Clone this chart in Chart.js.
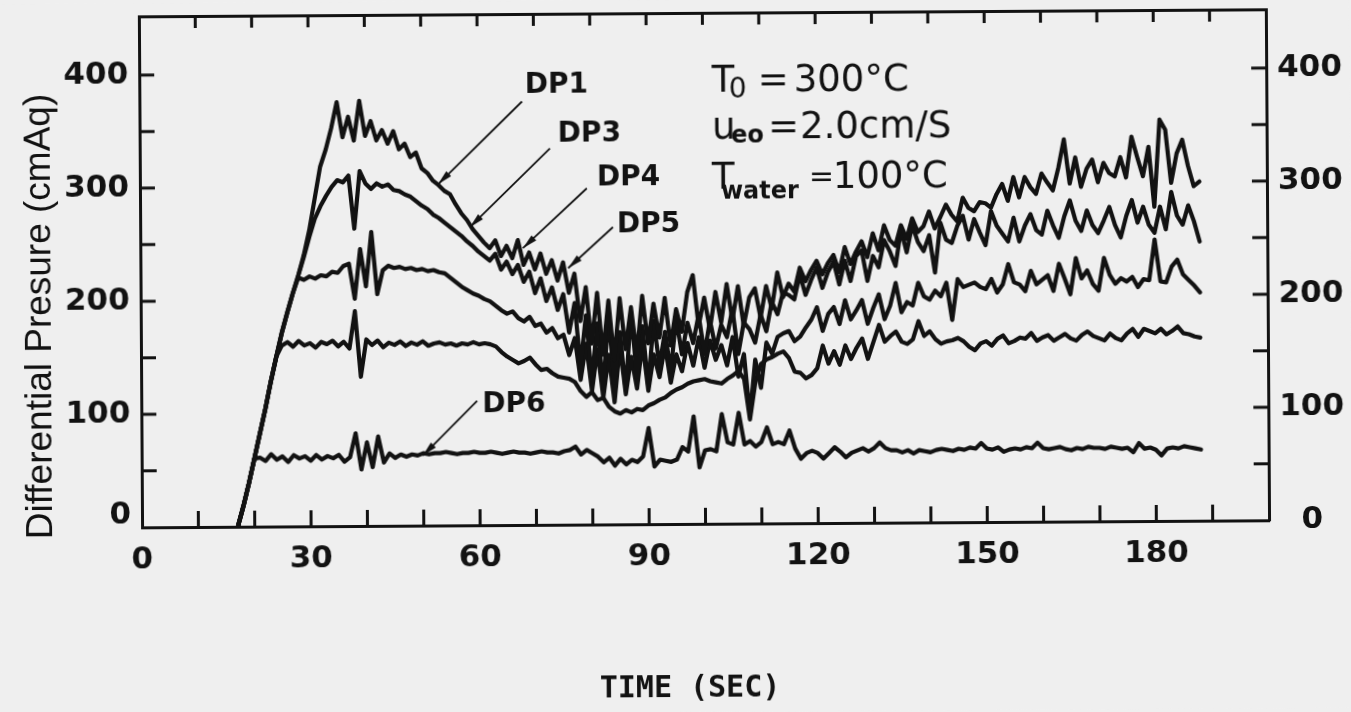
<!DOCTYPE html>
<html>
<head>
<meta charset="utf-8">
<title>Differential pressure</title>
<script src="https://cdn.jsdelivr.net/npm/chart.js@4.4.1/dist/chart.umd.min.js"></script>
<style>
  html, body { margin: 0; padding: 0; background: #efefef; overflow: hidden; }
  #chart { display: block; transform: rotate(-0.36deg); }
</style>
</head>
<body>
<canvas id="chart" width="1351" height="712"></canvas>
<script>
// sample times, one reading per second
var seconds = [17, 18, 19,
  20, 21, 22, 23, 24, 25, 26, 27, 28, 29,
  30, 31, 32, 33, 34, 35, 36, 37, 38, 39,
  40, 41, 42, 43, 44, 45, 46, 47, 48, 49,
  50, 51, 52, 53, 54, 55, 56, 57, 58, 59,
  60, 61, 62, 63, 64, 65, 66, 67, 68, 69,
  70, 71, 72, 73, 74, 75, 76, 77, 78, 79,
  80, 81, 82, 83, 84, 85, 86, 87, 88, 89,
  90, 91, 92, 93, 94, 95, 96, 97, 98, 99,
  100, 101, 102, 103, 104, 105, 106, 107, 108, 109,
  110, 111, 112, 113, 114, 115, 116, 117, 118, 119,
  120, 121, 122, 123, 124, 125, 126, 127, 128, 129,
  130, 131, 132, 133, 134, 135, 136, 137, 138, 139,
  140, 141, 142, 143, 144, 145, 146, 147, 148, 149,
  150, 151, 152, 153, 154, 155, 156, 157, 158, 159,
  160, 161, 162, 163, 164, 165, 166, 167, 168, 169,
  170, 171, 172, 173, 174, 175, 176, 177, 178, 179,
  180, 181, 182, 183, 184, 185, 186, 187, 188];

// differential pressure, cmAq
var dp1 = [0, 18, 38,
  60, 82, 104, 128, 150, 171, 189, 206, 222, 240,
  262, 290, 318, 333, 352, 375, 344, 362, 341, 376,
  345, 358, 341, 350, 338, 349, 333, 338, 326, 330,
  316, 312, 305, 301, 296, 293, 284, 276, 270, 262,
  256, 250, 245, 252, 238, 247, 236, 252, 230, 241,
  226, 240, 222, 234, 216, 232, 205, 222, 180, 210,
  160, 205, 150, 198, 145, 200, 155, 192, 150, 202,
  160, 195, 165, 200, 158, 190, 170, 205, 220, 175,
  200, 172, 205, 178, 212, 180, 210, 175, 200, 208,
  182, 210, 190, 222, 200, 212, 205, 226, 214, 224,
  232, 220, 230, 237, 222, 244, 229, 240, 249, 235,
  256, 241, 263, 250, 245, 263, 251, 269, 257, 262,
  275, 260, 270, 281, 272, 266, 287, 278, 275, 283,
  282, 278, 290, 299, 284, 305, 287, 305, 296, 290,
  308, 300, 293, 313, 338, 299, 322, 296, 312, 320,
  300, 317, 308, 305, 322, 304, 340, 322, 305, 331,
  278, 355, 346, 299, 325, 337, 314, 296, 300];

var dp3 = [0, 18, 38,
  60, 82, 104, 128, 150, 171, 189, 206, 222, 238,
  256, 272, 283, 292, 300, 306, 304, 310, 263, 314,
  303, 298, 303, 300, 302, 297, 296, 293, 291, 287,
  283, 280, 275, 272, 268, 264, 260, 256, 251, 247,
  242, 238, 234, 240, 226, 233, 222, 230, 215, 224,
  205, 218, 198, 210, 190, 204, 170, 196, 140, 185,
  128, 178, 120, 185, 125, 170, 118, 188, 130, 175,
  122, 180, 140, 170, 135, 182, 150, 178, 160, 185,
  150, 180, 155, 176, 165, 190, 150, 178, 172, 160,
  185, 170, 196, 185, 204, 202, 198, 220, 202, 215,
  226, 208, 222, 231, 211, 232, 214, 236, 241, 214,
  236, 226, 250, 240, 227, 259, 239, 263, 248, 240,
  254, 221, 265, 250, 247, 262, 271, 250, 268, 256,
  245, 275, 262, 255, 248, 269, 248, 262, 272, 258,
  254, 275, 262, 251, 270, 284, 266, 257, 275, 262,
  255, 266, 278, 262, 251, 270, 284, 264, 278, 262,
  255, 278, 258, 291, 270, 262, 279, 265, 247];

var dp4 = [0, 18, 38,
  60, 82, 104, 128, 150, 171, 189, 206, 220, 218,
  221, 219, 222, 221, 225, 224, 230, 232, 201, 245,
  212, 260, 205, 226, 230, 228, 229, 227, 228, 226,
  227, 225, 226, 224, 223, 219, 215, 211, 208, 205,
  203, 200, 198, 194, 190, 187, 189, 183, 180, 184,
  176, 178, 170, 174, 165, 168, 150, 165, 128, 160,
  118, 155, 112, 150, 108, 158, 115, 148, 120, 160,
  118, 150, 130, 158, 125, 150, 135, 160, 140, 165,
  138, 162, 145, 158, 140, 165, 130, 150, 95, 145,
  120, 160, 150, 165, 168, 170, 161, 165, 173, 180,
  191, 170, 185, 191, 176, 197, 180, 188, 197, 176,
  190, 202, 180, 192, 212, 186, 195, 192, 212, 200,
  197, 205, 200, 212, 179, 215, 208, 210, 212, 208,
  206, 215, 203, 210, 228, 212, 210, 204, 222, 210,
  214, 218, 204, 228, 215, 201, 233, 215, 222, 210,
  204, 233, 218, 210, 215, 212, 216, 207, 214, 213,
  249, 212, 211, 225, 231, 218, 213, 208, 202];

var dp5 = [0, 18, 38,
  60, 82, 104, 128, 150, 160, 163, 159, 164, 160,
  162, 158, 163, 161, 164, 159, 163, 157, 190, 132,
  165, 160, 164, 158, 162, 160, 163, 159, 162, 160,
  163, 159, 161, 162, 160, 161, 159, 161, 160, 162,
  160, 161, 160, 158, 153, 149, 146, 143, 145, 148,
  142, 137, 138, 134, 131, 130, 129, 126, 118, 113,
  117, 110, 112, 104, 100, 98, 101, 99, 102, 101,
  105, 107, 110, 112, 116, 119, 121, 124, 126, 127,
  128, 126, 125, 124, 128, 131, 135, 128, 92, 125,
  141, 145, 147, 150, 152, 146, 134, 133, 128, 131,
  137, 157, 141, 152, 140, 157, 145, 155, 163, 145,
  160, 175, 160, 165, 169, 160, 158, 162, 178, 165,
  169, 162, 158, 160, 161, 163, 160, 155, 152, 158,
  160, 156, 162, 165, 158, 160, 163, 162, 167, 160,
  163, 165, 160, 163, 166, 162, 160, 165, 168, 164,
  162, 160, 166, 162, 160, 166, 170, 163, 170, 168,
  166, 170, 165, 168, 172, 166, 165, 163, 162];

var dp6 = [0, 18, 38,
  60, 61, 58, 64, 59, 62, 57, 63, 60, 62,
  58, 63, 59, 62, 60, 63, 57, 61, 82, 50,
  74, 52, 79, 56, 64, 60, 63, 61, 63, 62,
  64, 63, 64, 64, 65, 64, 63, 64, 64, 65,
  64, 64, 65, 64, 63, 64, 65, 64, 64, 63,
  64, 65, 64, 64, 63, 65, 66, 69, 62, 66,
  63, 60, 55, 59, 52, 58, 53, 57, 55, 60,
  85, 51, 57, 56, 55, 57, 68, 64, 95, 50,
  65, 66, 64, 97, 72, 70, 98, 70, 73, 68,
  72, 85, 70, 72, 70, 82, 66, 57, 62, 64,
  62, 57, 62, 67, 63, 58, 62, 64, 66, 63,
  66, 71, 66, 64, 64, 62, 64, 61, 64, 63,
  62, 64, 65, 64, 63, 65, 64, 66, 65, 70,
  65, 64, 66, 62, 64, 65, 64, 66, 65, 70,
  65, 64, 65, 66, 64, 63, 65, 64, 66, 65,
  65, 64, 66, 65, 64, 65, 61, 69, 64, 65,
  63, 58, 64, 65, 64, 66, 65, 64, 63];

var timeLabels = [0, 30, 60, 90, 120, 150, 180];
var pressureTicks = [0, 50, 100, 150, 200, 250, 300, 350, 400, 450];
var pressureLabels = [0, 100, 200, 300, 400];

// curve names with label / leader anchors in (sec, cmAq)
var dpNames = ['DP1', 'DP3', 'DP4', 'DP5', 'DP6'];
var nameAt = [[68.4, 388.6], [74.2, 345.2], [81.1, 306.2], [84.6, 264.6], [60.5, 106.5]];
var leaderFrom = [[67.9, 374.6], [72.8, 332.9], [79.3, 297.4], [83.9, 262.9], [59.6, 110]];
var leaderTo = [[52.9, 301.8], [58.5, 263.7], [67.9, 244.9], [75.9, 226.9], [49.9, 61.9]];
// baselines of the three test-condition lines
var condAt = [[101.6, 382.3], [101.6, 340.8], [101.5, 296.7]];

var ink = '#121212';
var paper = '#efefef';
var tickFont = { family: 'DejaVu Sans', size: 31, weight: 'bold' };

function series(values) {
  return {
    data: seconds.map(function (s, i) { return { x: s, y: values[i] }; }),
    borderColor: ink,
    borderWidth: 4.2,
    borderJoinStyle: 'round',
    borderCapStyle: 'round',
    pointRadius: 0,
    tension: 0,
    fill: false
  };
}

// fixed box sizes so the plot frame lands where it should
function fixBox(w, h) {
  return function (s) {
    if (w !== null) s.width = w;
    if (h !== null) s.height = h;
    s.paddingTop = 0;
    s.paddingBottom = 0;
    s.paddingLeft = 0;
    s.paddingRight = 0;
  };
}

function pressureTickList(s) {
  s.ticks = pressureTicks.map(function (v) { return { value: v }; });
}

var paperFill = {
  id: 'paperFill',
  beforeDraw: function (chart) {
    var c = chart.ctx;
    c.save();
    c.fillStyle = paper;
    c.fillRect(0, 0, chart.width, chart.height);
    c.restore();
  }
};

var notes = {
  id: 'notes',
  afterDraw: function (chart) {
    var ctx = chart.ctx, sx = chart.scales.x, sy = chart.scales.y, area = chart.chartArea;
    function px(p) { return [sx.getPixelForValue(p[0]), sy.getPixelForValue(p[1])]; }

    ctx.save();
    ctx.fillStyle = ink;
    ctx.strokeStyle = ink;

    // tick marks point into the plot on all four sides
    ctx.lineWidth = 3;
    ctx.beginPath();
    sx.ticks.forEach(function (t) {
      if (t.value <= sx.min || t.value >= sx.max) return;
      var p = sx.getPixelForValue(t.value);
      ctx.moveTo(p, area.bottom); ctx.lineTo(p, area.bottom - 16);
      ctx.moveTo(p, area.top); ctx.lineTo(p, area.top + 12);
    });
    sy.ticks.forEach(function (t) {
      if (t.value <= sy.min || t.value > 400) return;
      var p = sy.getPixelForValue(t.value);
      ctx.moveTo(area.left, p); ctx.lineTo(area.left + 15, p);
      ctx.moveTo(area.right, p); ctx.lineTo(area.right - 15, p);
    });
    ctx.stroke();

    // leader lines with small arrow heads
    ctx.lineWidth = 1.8;
    for (var i = 0; i < dpNames.length; i++) {
      var a = px(leaderFrom[i]), b = px(leaderTo[i]);
      ctx.beginPath();
      ctx.moveTo(a[0], a[1]);
      ctx.lineTo(b[0], b[1]);
      ctx.stroke();
      var dx = b[0] - a[0], dy = b[1] - a[1], len = Math.hypot(dx, dy);
      var ux = dx / len, uy = dy / len;
      ctx.beginPath();
      ctx.moveTo(b[0], b[1]);
      ctx.lineTo(b[0] - 15 * ux - 3.5 * uy, b[1] - 15 * uy + 3.5 * ux);
      ctx.lineTo(b[0] - 15 * ux + 3.5 * uy, b[1] - 15 * uy - 3.5 * ux);
      ctx.closePath();
      ctx.fill();
    }

    ctx.font = 'bold 28px "DejaVu Sans"';
    ctx.textAlign = 'left';
    ctx.textBaseline = 'middle';
    dpNames.forEach(function (name, k) {
      var p = px(nameAt[k]);
      ctx.fillText(name, p[0], p[1]);
    });

    // test conditions
    var big = '37px "DejaVu Sans"';
    var sub = '28px "DejaVu Sans"';
    var subBold = 'bold 24px "DejaVu Sans"';
    ctx.textBaseline = 'alphabetic';
    var p = px(condAt[0]);
    ctx.font = big; ctx.fillText('T', p[0], p[1]);
    ctx.font = sub; ctx.fillText('0', p[0] + 17, p[1] + 6);
    ctx.font = big; ctx.fillText('=', p[0] + 46, p[1]);
    ctx.fillText('300°C', p[0] + 82, p[1]);
    p = px(condAt[1]);
    ctx.font = big; ctx.fillText('u', p[0], p[1]);
    ctx.font = subBold; ctx.fillText('eo', p[0] + 19, p[1] + 4);
    ctx.font = big; ctx.fillText('=', p[0] + 56, p[1]);
    ctx.fillText('2.0cm/S', p[0] + 88, p[1]);
    p = px(condAt[2]);
    ctx.font = big; ctx.fillText('T', p[0], p[1]);
    ctx.font = subBold; ctx.fillText('water', p[0] + 9, p[1] + 10);
    ctx.font = '30px "DejaVu Sans"'; ctx.fillText('=', p[0] + 97, p[1] - 2);
    ctx.font = big; ctx.fillText('100°C', p[0] + 121, p[1]);

    // axis titles
    ctx.font = '37px "Liberation Sans"';
    ctx.textAlign = 'center';
    ctx.save();
    ctx.translate(area.left - 90, (area.top + area.bottom) / 2 + 44);
    ctx.rotate(-Math.PI / 2);
    ctx.fillText('Differential Presure (cmAq)', 0, 0);
    ctx.restore();

    ctx.font = 'bold 30px "DejaVu Sans Mono"';
    ctx.fillText('TIME (SEC)', area.left + 547, area.bottom + 173);
    ctx.restore();
  }
};

new Chart(document.getElementById('chart'), {
  type: 'line',
  data: {
    datasets: [series(dp1), series(dp3), series(dp4), series(dp5), series(dp6)]
  },
  options: {
    responsive: false,
    animation: false,
    events: [],
    layout: { padding: 0 },
    plugins: { legend: { display: false }, tooltip: { enabled: false } },
    scales: {
      x: {
        type: 'linear', position: 'bottom', min: 0, max: 200,
        grid: { display: false, drawTicks: false },
        border: { color: ink, width: 3 },
        ticks: {
          stepSize: 10, autoSkip: false, maxRotation: 0, color: ink, font: tickFont, padding: 14,
          callback: function (v) { return timeLabels.indexOf(v) >= 0 ? String(v) : ''; }
        },
        afterFit: fixBox(null, 188)
      },
      xTop: {
        type: 'linear', position: 'top', min: 0, max: 200,
        grid: { display: false, drawTicks: false },
        border: { color: ink, width: 3 },
        ticks: { display: false },
        afterFit: fixBox(null, 13)
      },
      y: {
        position: 'left', min: 0, max: 452,
        grid: { display: false, drawTicks: false },
        border: { color: ink, width: 3 },
        afterBuildTicks: pressureTickList,
        ticks: {
          color: ink, padding: 11, autoSkip: false,
          font: { family: 'DejaVu Sans', size: 31, weight: 'bold', lineHeight: 0.8 },
          // the zero sits a little above the time axis
          callback: function (v) {
            if (pressureLabels.indexOf(v) < 0) return '';
            return v === 0 ? ['0', ''] : String(v);
          }
        },
        afterFit: fixBox(141, null)
      },
      yRight: {
        position: 'right', min: 0, max: 452,
        grid: { display: false, drawTicks: false },
        border: { color: ink, width: 3 },
        afterBuildTicks: pressureTickList,
        ticks: {
          color: ink, padding: 11, crossAlign: 'center', font: tickFont, autoSkip: false,
          callback: function (v) { return pressureLabels.indexOf(v) >= 0 ? String(v) : ''; }
        },
        afterFit: fixBox(83, null)
      }
    }
  },
  plugins: [paperFill, notes]
});
</script>
</body>
</html>
